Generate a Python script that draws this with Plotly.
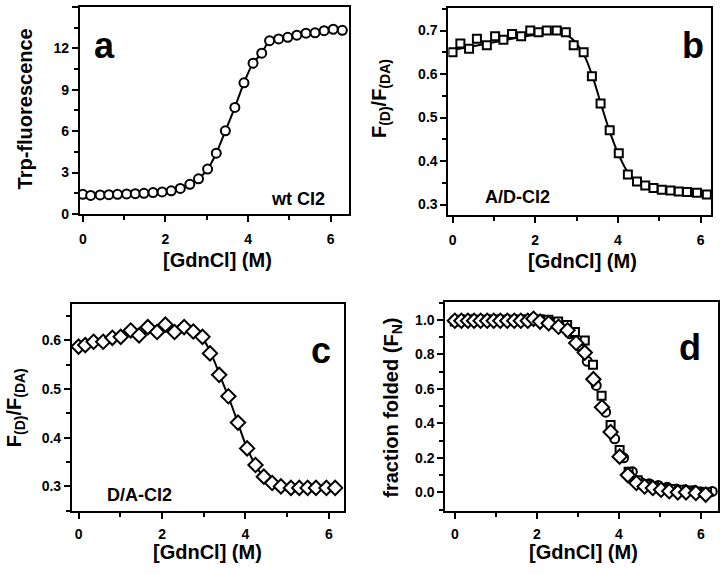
import plotly.graph_objects as go

FONT = "Liberation Sans"

# ---------------- data ----------------
# panel a: Trp fluorescence, wt CI2
a_x = [0.0, 0.19, 0.42, 0.63, 0.84, 1.06, 1.27, 1.48, 1.70, 1.92, 2.14, 2.36, 2.59, 2.80,
       3.02, 3.23, 3.45, 3.68, 3.90, 4.12, 4.33,
       4.52, 4.74, 4.96, 5.18, 5.40, 5.62, 5.84, 6.06, 6.28]
a_y = [1.42, 1.34, 1.38, 1.40, 1.42, 1.45, 1.47, 1.50, 1.55, 1.60, 1.68, 1.85, 2.15, 2.55,
       3.25, 4.40, 6.02, 7.72, 9.50, 10.92, 11.65,
       12.55, 12.68, 12.80, 12.95, 13.10, 13.12, 13.28, 13.38, 13.30]

# panel b: A/D-CI2
b_x = [0.0, 0.19, 0.40, 0.59, 0.83, 1.03, 1.23, 1.44, 1.66, 1.88, 2.08, 2.28, 2.52, 2.74, 2.93,
       3.17, 3.37, 3.58, 3.80, 4.02, 4.24, 4.46, 4.66, 4.86, 5.06, 5.27, 5.47, 5.67, 5.91, 6.15]
b_y = [0.650, 0.670, 0.658, 0.681, 0.666, 0.687, 0.679, 0.692, 0.687, 0.700, 0.696, 0.700, 0.700, 0.696, 0.666,
       0.650, 0.595, 0.532, 0.471, 0.418, 0.369, 0.353, 0.344, 0.338, 0.334, 0.332, 0.330, 0.329, 0.327, 0.323]
b_fit_x = [0.0, 0.5, 1.0, 1.5, 2.0, 2.5, 2.8, 3.0, 3.2, 3.4, 3.6, 3.8, 4.0, 4.2, 4.4, 4.6, 5.0, 5.5, 6.15]
b_fit_y = [0.655, 0.664, 0.673, 0.682, 0.690, 0.693, 0.687, 0.670, 0.640, 0.590, 0.528, 0.468, 0.418,
           0.380, 0.356, 0.344, 0.334, 0.329, 0.325]

# panel c: D/A-CI2
c_x = [0.0, 0.16, 0.36, 0.59, 0.81, 1.01, 1.25, 1.45, 1.66, 1.88, 2.08, 2.30, 2.53, 2.75, 2.97,
       3.15, 3.37, 3.59, 3.82, 4.04, 4.24, 4.44, 4.64, 4.85, 5.09, 5.29, 5.49, 5.69, 5.94, 6.15]
c_y = [0.587, 0.590, 0.597, 0.597, 0.605, 0.607, 0.620, 0.610, 0.627, 0.617, 0.632, 0.617, 0.627, 0.618, 0.607,
       0.573, 0.529, 0.485, 0.431, 0.378, 0.344, 0.320, 0.307, 0.300, 0.297, 0.297, 0.297, 0.297, 0.297, 0.297]
c_fit_x = [0.0, 0.5, 1.0, 1.5, 2.0, 2.5, 2.8, 3.0, 3.2, 3.4, 3.6, 3.8, 4.0, 4.2, 4.4, 4.6, 4.8, 5.0, 5.5, 6.15]
c_fit_y = [0.588, 0.597, 0.605, 0.613, 0.618, 0.619, 0.613, 0.600, 0.568, 0.525, 0.482, 0.435, 0.387,
           0.350, 0.323, 0.308, 0.301, 0.298, 0.296, 0.296]

# panel d: fraction folded
d_circ_x = a_x
d_circ_y = [1.0, 1.0, 1.0, 1.0, 1.0, 1.0, 1.0, 1.0, 1.0, 1.0, 1.0, 0.98, 0.96, 0.92,
            0.85, 0.76, 0.62, 0.465, 0.31, 0.20, 0.12,
            0.06, 0.05, 0.04, 0.03, 0.02, 0.015, 0.01, 0.0, 0.005]
d_sq_x = b_x
d_sq_y = [0.99, 1.0, 1.0, 1.0, 1.0, 1.0, 1.0, 1.0, 1.0, 1.0, 1.0, 1.0, 0.99, 0.97, 0.93,
          0.88, 0.74, 0.56, 0.39, 0.245, 0.12, 0.07, 0.045, 0.035, 0.025, 0.02, 0.015, 0.01, 0.005, 0.0]
d_dia_x = [0.0, 0.16, 0.32, 0.47, 0.63, 0.79, 0.95, 1.11, 1.28, 1.45, 1.61, 1.78, 1.92,
           2.08, 2.29, 2.53, 2.75, 2.96, 3.17, 3.38, 3.59, 3.80, 4.02, 4.22, 4.43, 4.63, 4.83,
           5.03, 5.23, 5.44, 5.64, 5.88, 6.12]
d_dia_y = [0.995, 0.995, 0.995, 0.995, 0.995, 0.995, 0.995, 0.995, 0.995, 0.995, 0.995, 0.995, 1.006,
           0.99, 0.98, 0.96, 0.94, 0.866, 0.81, 0.656, 0.493, 0.35, 0.207, 0.10, 0.054, 0.034, 0.025,
           0.015, 0.006, 0.0, 0.0, -0.004, -0.013]

# ---------------- figure ----------------
W, H = 720, 574
fig = go.Figure()


def mk(symbol, size):
    return dict(symbol=symbol, size=size, color="white", line=dict(color="black", width=2))


# a
fig.add_trace(go.Scatter(x=a_x, y=a_y, mode="lines", line=dict(color="black", width=2, shape="spline"),
                         xaxis="x", yaxis="y"))
fig.add_trace(go.Scatter(x=a_x, y=a_y, mode="markers", marker=mk("circle", 9), xaxis="x", yaxis="y"))
# b
fig.add_trace(go.Scatter(x=b_fit_x, y=b_fit_y, mode="lines", line=dict(color="black", width=2, shape="spline"),
                         xaxis="x2", yaxis="y2"))
fig.add_trace(go.Scatter(x=b_x, y=b_y, mode="markers", marker=mk("square", 8), xaxis="x2", yaxis="y2"))
# c
fig.add_trace(go.Scatter(x=c_fit_x, y=c_fit_y, mode="lines", line=dict(color="black", width=2, shape="spline"),
                         xaxis="x3", yaxis="y3"))
fig.add_trace(go.Scatter(x=c_x, y=c_y, mode="markers", marker=mk("diamond", 11), xaxis="x3", yaxis="y3"))
# d
fig.add_trace(go.Scatter(x=d_circ_x, y=d_circ_y, mode="markers", marker=mk("circle", 9), xaxis="x4", yaxis="y4"))
fig.add_trace(go.Scatter(x=d_sq_x, y=d_sq_y, mode="markers", marker=mk("square", 8), xaxis="x4", yaxis="y4"))
fig.add_trace(go.Scatter(x=d_dia_x, y=d_dia_y, mode="markers", marker=mk("diamond", 11), xaxis="x4", yaxis="y4"))


def px_x(a, b):
    return [a / W, b / W]


def px_y(top, bottom):
    return [1 - bottom / H, 1 - top / H]


tickfont = dict(family=FONT, size=14, color="black", weight=700)


def axis(domain, rng, anchor, dtick, minor_dtick, fmt=None, standoff=0):
    d = dict(domain=domain, range=rng, anchor=anchor, showline=True, linewidth=2, linecolor="black",
             mirror=True, ticks="outside", ticklen=6, tickwidth=2, tickcolor="black",
             showgrid=False, zeroline=False, tickfont=tickfont, dtick=dtick, tick0=0,
             ticklabelstandoff=standoff,
             minor=dict(ticks="outside", ticklen=4, tickwidth=1.5, tickcolor="black",
                        dtick=minor_dtick, tick0=0, showgrid=False))
    if fmt:
        d["tickformat"] = fmt
    return d


fig.update_layout(
    width=W, height=H, margin=dict(l=0, r=0, t=0, b=0),
    paper_bgcolor="white", plot_bgcolor="white", showlegend=False,
    xaxis=axis(px_x(79, 348), [-0.07, 6.43], "y", 2, 1, standoff=5),
    yaxis=axis(px_y(7, 217), [0, 15], "x", 3, 1.5),
    xaxis2=axis(px_x(448, 711), [-0.1, 6.25], "y2", 2, 1, standoff=5),
    yaxis2=axis(px_y(8, 218), [0.276, 0.752], "x2", 0.1, 0.05, ".1f"),
    xaxis3=axis(px_x(71, 343), [-0.16, 6.35], "y3", 2, 1, standoff=3),
    yaxis3=axis(px_y(308, 518), [0.25, 0.675], "x3", 0.1, 0.05, ".1f"),
    xaxis4=axis(px_x(445, 718), [-0.23, 6.42], "y4", 2, 1, standoff=3),
    yaxis4=axis(px_y(306, 518), [-0.107, 1.105], "x4", 0.2, 0.1, ".1f"),
)

title_font = dict(family=FONT, size=20, color="black", weight=700)
letter_font = dict(family=FONT, size=36, color="black", weight=700)
label_font = dict(family=FONT, size=18, color="black", weight=700)


def ann(text, x, y, font, angle=0):
    fig.add_annotation(text=text, x=x / W, y=1 - y / H, xref="paper", yref="paper",
                       showarrow=False, font=font, textangle=angle, xanchor="center", yanchor="middle")


xt = "[GdnCl] (M)"
ann(xt, 217, 264, title_font)
ann(xt, 582, 265, title_font)
ann(xt, 207, 560, title_font)
ann(xt, 583, 560, title_font)
ann("Trp-fluorescence", 25, 110, title_font, -90)
ann("F<sub>(D)</sub>/F<sub>(DA)</sub>", 380, 100, title_font, -90)
ann("F<sub>(D)</sub>/F<sub>(DA)</sub>", 14, 413, title_font, -90)
ann("fraction folded (F<sub>N</sub>)", 392, 413, title_font, -90)

ann("a", 104, 46, letter_font)
ann("b", 693, 46, letter_font)
ann("c", 320, 355, letter_font)
ann("d", 690, 352, letter_font)

ann("wt CI2", 297, 202, label_font)
ann("A/D-CI2", 517, 200, label_font)
ann("D/A-CI2", 139, 502, label_font)

fig.write_html("out.html", config={"displayModeBar": False},
               post_script="document.body.style.margin='0';document.body.style.overflow='hidden';")
